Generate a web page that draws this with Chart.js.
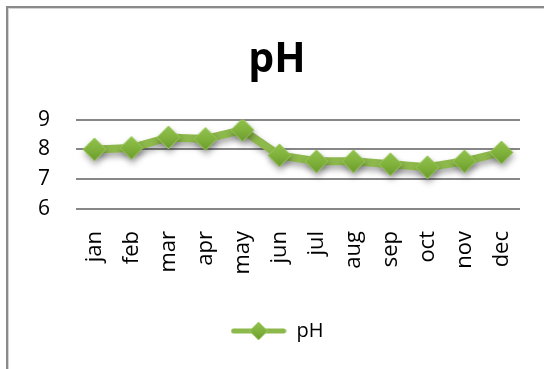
<!DOCTYPE html>
<html>
<head>
<meta charset="utf-8">
<script src="https://cdn.jsdelivr.net/npm/chart.js@4/dist/chart.umd.min.js"></script>
<style>
  html, body { margin: 0; padding: 0; background: #fff; }
  #wrap { position: relative; width: 544px; height: 369px; overflow: hidden; }
  #frame {
    position: absolute; left: 6px; top: 6px; width: 600px; height: 400px;
    border-left: 2px solid #8a8a8a; border-top: 2px solid #8a8a8a;
    box-shadow: inset 1px 1px 0 #d4d4d4;
  }
  canvas { position: absolute; left: 0; top: 0; }
</style>
</head>
<body>
<div id="wrap">
  <div id="frame"></div>
  <canvas id="c" width="544" height="369"></canvas>
</div>
<script>
// Monthly pH readings
const months = ['jan', 'feb', 'mar', 'apr', 'may', 'jun', 'jul', 'aug', 'sep', 'oct', 'nov', 'dec'];
const phValues = [8.0, 8.05, 8.4, 8.35, 8.65, 7.8, 7.6, 7.6, 7.5, 7.4, 7.6, 7.9];
const yTicks = [6, 7, 8, 9];

const LINE = '#8db84b';
const FONT = "'Open Sans', 'DejaVu Sans', sans-serif";

// Diamond marker with a soft top-to-bottom green gradient
function diamond(r) {
  const c = document.createElement('canvas');
  c.width = c.height = r * 2 + 2;
  const g = c.getContext('2d');
  const m = r + 1;
  const grad = g.createLinearGradient(0, 0, 0, c.height);
  grad.addColorStop(0, '#94c450');
  grad.addColorStop(0.5, '#80b23c');
  grad.addColorStop(1, '#6a9a2c');
  g.beginPath();
  g.moveTo(m, 1); g.lineTo(c.width - 1, m); g.lineTo(m, c.height - 1); g.lineTo(1, m); g.closePath();
  g.fillStyle = grad; g.fill();
  g.strokeStyle = '#9ccb5e'; g.lineWidth = 1; g.stroke();
  return c;
}

// Legend swatch: a short line with the diamond marker in its middle
function legendSwatch() {
  const c = document.createElement('canvas');
  c.width = 56; c.height = 20;
  const g = c.getContext('2d');
  g.strokeStyle = LINE; g.lineWidth = 5; g.lineCap = 'round';
  g.beginPath(); g.moveTo(3, 10); g.lineTo(53, 10); g.stroke();
  const d = diamond(9);
  g.drawImage(d, 28 - d.width / 2, 10 - d.height / 2);
  return c;
}

const marker = diamond(11.5);
const swatch = legendSwatch();

// Drop shadow under the series line and markers
const shadowPlugin = {
  id: 'seriesShadow',
  beforeDatasetDraw(chart) {
    const ctx = chart.ctx;
    ctx.save();
    ctx.shadowColor = 'rgba(0,0,0,0.35)';
    ctx.shadowBlur = 6;
    ctx.shadowOffsetX = 1;
    ctx.shadowOffsetY = 4;
  },
  afterDatasetDraw(chart) { chart.ctx.restore(); }
};

new Chart(document.getElementById('c'), {
  type: 'line',
  data: {
    labels: months,
    datasets: [{
      label: 'pH',
      data: phValues,
      borderColor: LINE,
      borderWidth: 8,
      borderJoinStyle: 'round',
      tension: 0,
      pointStyle: marker,
      pointRadius: 11,
      backgroundColor: LINE
    }]
  },
  options: {
    responsive: false,
    animation: false,
    layout: { padding: { left: 34, right: 24, top: 0, bottom: 18 } },
    plugins: {
      tooltip: { enabled: false },
      title: {
        display: true,
        text: 'pH',
        color: '#000',
        font: { family: FONT, size: 41, weight: 'bold', lineHeight: 1.2 },
        padding: { top: 35.4, bottom: 35 }
      },
      legend: {
        position: 'bottom',
        labels: {
          usePointStyle: true,
          pointStyleWidth: 56,
          generateLabels: () => [{ text: 'pH', pointStyle: swatch, fillStyle: LINE, strokeStyle: LINE, lineWidth: 0, fontColor: '#000' }],
          color: '#000',
          font: { family: FONT, size: 20 },
          padding: 6
        }
      }
    },
    scales: {
      x: {
        offset: true,
        grid: { display: false, drawTicks: false },
        border: { display: false },
        ticks: {
          color: '#000', minRotation: 90, maxRotation: 90, padding: 22,
          font: { family: FONT, size: 22 }
        },
        afterFit: s => { s.height = 106; s.paddingLeft = 0; s.paddingRight = 0; }
      },
      y: {
        min: 6, max: 9,
        afterBuildTicks: s => { s.ticks = yTicks.map(v => ({ value: v })); },
        grid: { color: '#878787', lineWidth: 2, drawTicks: false },
        border: { display: false },
        ticks: { color: '#000', padding: 26, font: { family: FONT, size: 21 } },
        afterFit: s => { s.width = 42; }
      }
    }
  },
  plugins: [shadowPlugin]
});
</script>
</body>
</html>
